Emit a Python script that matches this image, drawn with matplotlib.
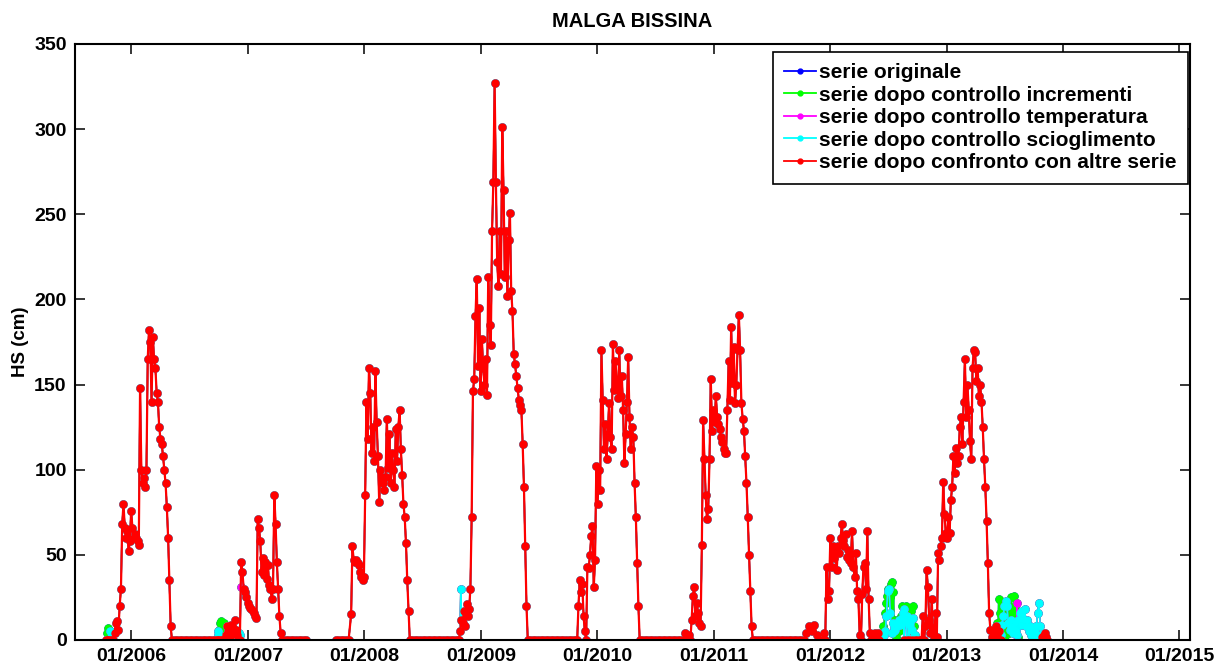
import matplotlib
matplotlib.use("Agg")
import matplotlib.pyplot as plt
import matplotlib.dates as mdates
import numpy as np
import pandas as pd

plt.rcParams['font.family'] = ['Liberation Sans', 'DejaVu Sans']
plt.rcParams['font.weight'] = 'bold'

# HS (cm) after the last check, one list per season: start date, step in days, values
red_0506 = [0, 0, 0, 0, 0, 0, 0, 4, 10, 11, 6, 20, 30, 68, 80, 66, 60, 64, 52, 58,
            76, 66, 60, 62, 60, 58, 56, 148, 100, 92, 95, 90, 100, 165, 182, 175, 140, 178, 165, 160,
            145, 140, 125, 118, 115, 108, 100, 92, 78, 60, 35, 8, 0]
zero_2006 = [0, 0, 0, 0, 0, 0, 0, 0, 0, 0, 0, 0, 0, 0, 0, 0, 0]
red_0607 = [0, 0, 0, 0, 0, 0, 0, 3, 8, 5, 2, 9, 4, 7, 12, 6, 3, 0, 0, 46,
            40, 30, 28, 25, 22, 20, 19, 18, 17, 16, 14, 13, 71, 66, 58, 40, 48, 38, 46, 36,
            44, 32, 30, 24, 30, 85, 68, 46, 30, 14, 4, 0]
zero_2007a = [0, 0, 0, 0, 0, 0, 0, 0, 0, 0]
zero_2007b = [0, 0, 0, 0, 0, 0]
red_0708 = [15, 55, 47, 46, 47, 45, 44, 40, 37, 35, 37, 85, 140, 118, 160, 145, 110, 125, 105, 158,
            128, 108, 81, 100, 96, 92, 88, 96, 130, 101, 121, 92, 110, 100, 90, 124, 105, 125, 135, 112,
            97, 80, 72, 57, 35, 17, 0]
zero_2008 = [0, 0, 0, 0, 0, 0, 0, 0, 0, 0, 0, 0, 0, 0, 0, 0, 0, 0, 0]
red_0809 = [0, 5, 12, 10, 17, 8, 21, 14, 18, 30, 72, 146, 153, 190, 212, 161, 195, 146, 177, 160,
            150, 165, 144, 213, 185, 173, 240, 269, 327, 269, 222, 208, 240, 215, 301, 264, 213, 240, 202, 235,
            251, 205, 193, 168, 162, 155, 148, 141, 138, 135, 115, 90, 55, 20, 0]
zero_2009 = [0, 0, 0, 0, 0, 0, 0, 0, 0, 0, 0, 0, 0, 0, 0, 0, 0, 0, 0]
red_0910 = [0, 20, 35, 28, 33, 14, 5, 0, 43, 42, 50, 61, 67, 31, 47, 102, 80, 100, 88, 170,
            141, 112, 127, 106, 121, 139, 119, 112, 174, 147, 164, 151, 142, 170, 143, 155, 135, 104, 121, 140,
            166, 131, 112, 125, 119, 92, 72, 45, 20, 0]
zero_2010 = [0, 0, 0, 0, 0, 0, 0, 0, 0, 0, 0, 0, 0, 0, 0, 0, 0]
red_1011 = [0, 4, 0, 0, 3, 0, 12, 26, 31, 14, 22, 16, 10, 8, 56, 129, 106, 85, 71, 77,
            106, 153, 123, 135, 128, 143, 131, 127, 124, 119, 116, 112, 110, 110, 135, 164, 141, 184, 151, 172,
            139, 150, 170, 191, 170, 139, 130, 123, 108, 92, 72, 50, 29, 8, 0]
zero_2011 = [0, 0, 0, 0, 0, 0, 0, 0, 0, 0, 0, 0, 0, 0, 0, 0, 0, 0, 0, 0,
             4, 8, 5, 9, 3, 0, 0]
red_1112 = [0, 4, 0, 43, 24, 29, 60, 43, 55, 48, 51, 41, 55, 51, 60, 68, 59, 55, 62, 49,
            53, 47, 45, 64, 43, 37, 51, 29, 24, 3, 0, 27, 43, 45, 30, 64, 24, 4, 0, 0,
            0, 4, 0, 4, 0]
zero_2012 = [0, 0, 0, 0, 0, 0, 0]
red_1213 = [0, 0, 14, 0, 8, 41, 31, 12, 4, 24, 4, 2, 16, 2, 51, 47, 55, 60, 93, 74,
            63, 60, 72, 63, 82, 90, 108, 98, 113, 104, 108, 125, 131, 115, 140, 165, 131, 150, 135, 117,
            106, 160, 170, 169, 152, 160, 143, 150, 140, 125, 106, 90, 70, 45, 16, 6, 2]
red_2013a = [6, 0, 8, 3, 0, 5, 0]
red_2013b = [2, 3, 4, 2, 0]

red_segments = [("2005-10-12", 4, red_0506), ("2006-05-16", 8, zero_2006),
                ("2006-09-26", 4, red_0607), ("2007-04-22", 8, zero_2007a),
                ("2007-10-04", 8, zero_2007b), ("2007-11-21", 4, red_0708),
                ("2008-05-31", 8, zero_2008), ("2008-10-24", 4, red_0809),
                ("2009-06-05", 8, zero_2009), ("2009-10-30", 4, red_0910),
                ("2010-05-22", 8, zero_2010), ("2010-09-30", 4, red_1011),
                ("2011-05-12", 8, zero_2011), ("2011-12-09", 4, red_1112),
                ("2012-08-21", 8, zero_2012), ("2012-10-10", 4, red_1213),
                ("2013-05-26", 4, red_2013a), ("2013-10-28", 4, red_2013b)]

# values dropped at each step (still present in the earlier series)
green_2005 = [4, 7, 6, 3]
green_2006 = [6, 10, 11, 8, 10, 5, 3]
green_2012 = [2, 8, 16, 22, 26, 30, 25, 33, 34, 28, 12, 2, 0, 5, 10, 14, 20, 11, 18, 20,
              9, 15, 6, 17, 20, 8, 0]
green_2013 = [0, 10, 24, 16, 23, 12, 5, 0, 8, 14, 4, 18, 25, 16, 26, 20, 9, 2]
green_segments = [("2005-10-16", 4, green_2005), ("2006-10-02", 4, green_2006),
                  ("2012-06-12", 4, green_2012), ("2013-06-05", 4, green_2013)]

magenta_2006 = [31]
magenta_2013 = [22, 0]
magenta_segments = [("2006-12-10", 1, magenta_2006), ("2013-08-10", 1, magenta_2013)]

cyan_2005 = [5, 2]
cyan_2006a = [5, 3]
cyan_2006b = [4, 3]
cyan_2008 = [30]
cyan_2012 = [4, 3, 5, 14, 29, 30, 16, 4, 10, 5, 6, 8, 10, 12, 9, 13, 16, 18, 12, 14,
             10, 13, 12, 6, 13, 3]
cyan_2013 = [2, 4, 8, 3, 9, 14, 20, 23, 20, 10, 6, 12, 8, 4, 10, 6, 3, 12, 16, 9,
             17, 12, 18, 8, 12, 5, 8, 3, 6, 2, 5, 8, 16, 22, 8, 3]
cyan_segments = [("2005-10-26", 4, cyan_2005), ("2006-09-28", 2, cyan_2006a),
                 ("2006-12-03", 3, cyan_2006b), ("2008-10-30", 1, cyan_2008),
                 ("2012-06-14", 4, cyan_2012), ("2013-06-07", 4, cyan_2013)]


def to_series(segments):
    parts = [pd.Series(v, index=pd.date_range(s, periods=len(v), freq=f"{d}D"), dtype=float)
             for s, d, v in segments]
    return pd.concat(parts)


def broken(s, max_gap=12):
    # NaN between points far apart, so no line is drawn across missing periods
    s = s.sort_index(kind="stable")
    x = s.index.values
    y = s.values
    gaps = np.where(np.diff(x) > np.timedelta64(max_gap, "D"))[0]
    x = np.insert(x, gaps + 1, x[gaps] + np.timedelta64(1, "D"))
    y = np.insert(y, gaps + 1, np.nan)
    return x, y


red = to_series(red_segments)
cyan = pd.concat([red, to_series(cyan_segments)])
magenta = pd.concat([cyan, to_series(magenta_segments)])
green = pd.concat([magenta, to_series(green_segments)])
original = green

series = [(original, "#0000ff", "serie originale"),
          (green, "#00ff00", "serie dopo controllo incrementi"),
          (magenta, "#ff00ff", "serie dopo controllo temperatura"),
          (cyan, "#00ffff", "serie dopo controllo scioglimento"),
          (red, "#ff0000", "serie dopo confronto con altre serie")]

fig = plt.figure(figsize=(12.32, 6.70), dpi=100)
ax = fig.add_axes([0.0609, 0.0448, 0.9050, 0.8896])

for s, c, lab in series:
    x, y = broken(s)
    lw = 1.6 if c == "#ff0000" else 1.1
    ax.plot(x, y, color=c, lw=lw, marker="o", ms=5.0, mec=c, mfc=c, label=lab)

ax.set_xlim(pd.Timestamp("2005-07-08"), pd.Timestamp("2015-02-03"))
ax.set_ylim(0, 350)
ax.set_yticks(np.arange(0, 351, 50))
ax.xaxis.set_major_locator(mdates.YearLocator())
ax.xaxis.set_major_formatter(mdates.DateFormatter("%m/%Y"))
ax.tick_params(direction="in", top=True, right=True, length=7, width=1.1,
               labelsize=14, pad=6)
for sp in ax.spines.values():
    sp.set_linewidth(1.5)

ax.set_title("MALGA BISSINA", fontsize=14.5, fontweight="bold", pad=12)
ax.set_ylabel("HS (cm)", fontsize=13.5, fontweight="bold", labelpad=4)

leg = ax.legend(loc="upper right", bbox_to_anchor=(0.998, 0.987), borderaxespad=0,
                fontsize=15, labelspacing=0.17, handlelength=1.5, handletextpad=0.15,
                borderpad=0.55, fancybox=False, edgecolor="black", framealpha=1)
leg.get_frame().set_linewidth(1.2)
for h in leg.legend_handles:
    h.set_markersize(3.5)
    h.set_linewidth(1.3)

fig.savefig("out.png", dpi=100)
